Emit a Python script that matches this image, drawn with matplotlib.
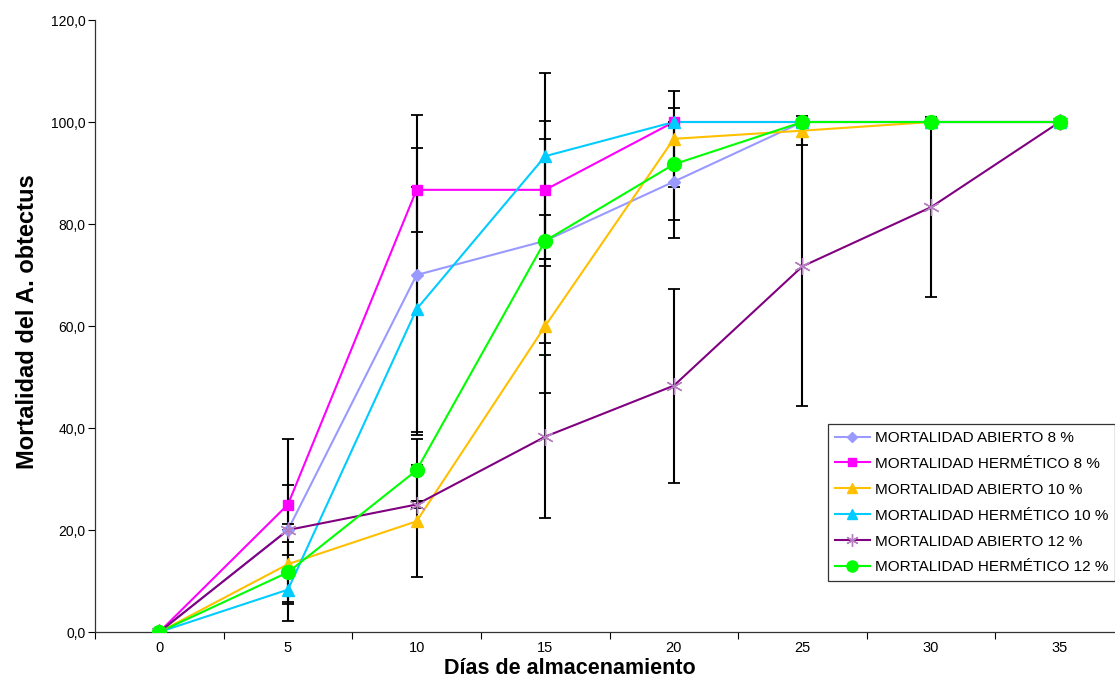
import numpy as np
import matplotlib
matplotlib.use("Agg")
import matplotlib.pyplot as plt
from matplotlib.ticker import FuncFormatter

plt.rcParams['font.family'] = ['Liberation Sans', 'DejaVu Sans']

dias = ["0", "5", "10", "15", "20", "25", "30", "35"]

ab8 = [0, 20.0, 70.0, 76.7, 88.3, 100, 100, 100]
he8 = [0, 25.0, 86.7, 86.7, 100, 100, 100, 100]
ab10 = [0, 13.3, 21.7, 60.0, 96.7, 98.3, 100, 100]
he10 = [0, 8.3, 63.3, 93.3, 100, 100, 100, 100]
ab12 = [0, 20.0, 25.0, 38.3, 48.3, 71.7, 83.3, 100]
he12 = [0, 11.7, 31.7, 76.7, 91.7, 100, 100, 100]

# desviaciones (barras de error)
err_ab8 = [0, 0, 31.4, 20.0, 11.0, 0, 0, 0]
err_he8 = [0, 3.8, 8.2, 13.5, 0, 0, 0, 0]
err_ab10 = [0, 1.8, 11.0, 13.2, 9.4, 2.9, 0, 0]
err_he10 = [0, 2.8, 24.0, 16.3, 0, 0, 0, 0]
err_ab12 = [0, 17.8, 0.7, 16.0, 19.0, 27.4, 17.6, 0]
err_he12 = [0, 5.9, 6.1, 5.0, 11.0, 0, 0, 0]

series = [
    ("MORTALIDAD ABIERTO 8 %", ab8, err_ab8, '#9999FF', 'D', 6),
    ("MORTALIDAD HERMÉTICO 8 %", he8, err_he8, '#FF00FF', 's', 7),
    ("MORTALIDAD ABIERTO 10 %", ab10, err_ab10, '#FFC000', '^', 9),
    ("MORTALIDAD HERMÉTICO 10 %", he10, err_he10, '#00CCFF', '^', 9),
    ("MORTALIDAD ABIERTO 12 %", ab12, err_ab12, '#800080', (6, 2, 0), 12),
    ("MORTALIDAD HERMÉTICO 12 %", he12, err_he12, '#00FF00', 'o', 10),
]

W, H = 1115, 679
fig = plt.figure(figsize=(W / 100, H / 100), dpi=100)
left, right, top, bottom = 95, 1124, 20, 632
ax = fig.add_axes([left / W, 1 - bottom / H, (right - left) / W, (bottom - top) / H])

x = np.arange(len(dias))
handles = []
for name, vals, err, col, mk, ms in series:
    ax.plot(x, vals, color=col, lw=1.5, zorder=2)
    ax.errorbar(x, vals, yerr=err, fmt='none', ecolor='black', elinewidth=1.5,
                capsize=4, capthick=1.3, zorder=2.5)
    if name.endswith("ABIERTO 12 %"):
        ax.plot(x, vals, ls='none', marker=mk, ms=ms, mec='#B57FC0', mew=1.0, zorder=3)
        h, = ax.plot([], [], color=col, lw=1.5, marker=mk, ms=9, mec='#B57FC0', mew=1.0)
    else:
        ax.plot(x, vals, ls='none', marker=mk, ms=ms, color=col, mec=col, zorder=3)
        h, = ax.plot([], [], color=col, lw=1.5, marker=mk, ms=ms * 0.8, mec=col)
    handles.append((h, name))

ax.set_xlim(-0.5, len(dias) - 0.5)
ax.set_ylim(0, 120)
ax.set_yticks(np.arange(0, 121, 20))
ax.yaxis.set_major_formatter(FuncFormatter(lambda v, p: f"{v:.1f}".replace('.', ',')))
ax.set_xticks(np.arange(-0.5, len(dias) - 0.4, 1))
ax.set_xticklabels([])
ax.set_xticks(x, minor=True)
ax.set_xticklabels(dias, minor=True)
ax.tick_params(axis='x', which='minor', length=0, pad=6.5, labelsize=10.5)
ax.tick_params(axis='x', which='major', direction='out', length=5, width=0.8)
ax.tick_params(axis='y', direction='out', length=5, width=0.8, labelsize=10, pad=2)

for s in ['top', 'right']:
    ax.spines[s].set_visible(False)
for s in ['left', 'bottom']:
    ax.spines[s].set_color('#333333')
    ax.spines[s].set_linewidth(0.9)

fig.text(28 / W, 1 - 322 / H, "Mortalidad del A. obtectus", rotation=90,
         ha='center', va='center', fontsize=17, fontweight='bold')
fig.text(570 / W, 1 - 674 / H, "Días de almacenamiento", ha='center', va='baseline',
         fontsize=15.5, fontweight='bold')

leg = ax.legend([h for h, n in handles], [n for h, n in handles],
                loc='upper left', bbox_to_anchor=(828 / W, 1 - 424 / H),
                bbox_transform=fig.transFigure, fontsize=11, frameon=True,
                fancybox=False, edgecolor='black', borderpad=0.45,
                labelspacing=0.78, handlelength=2.3, handletextpad=0.3,
                borderaxespad=0)
leg.get_frame().set_linewidth(0.9)

fig.savefig("out.png", dpi=100)
